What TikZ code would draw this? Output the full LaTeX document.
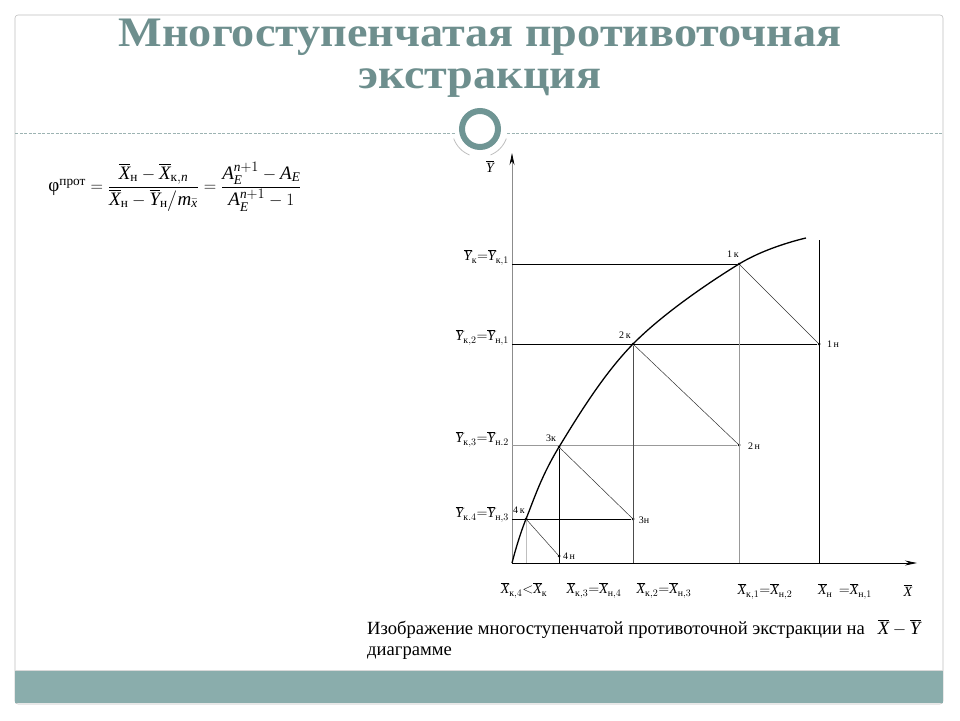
\documentclass[tikz,border=0pt]{standalone}
\usepackage{amsmath}
\usepackage{fontspec}
\setmainfont{Liberation Serif}
\usetikzlibrary{arrows.meta}
\definecolor{tealtitle}{HTML}{6E8F8E}
\definecolor{tealbar}{HTML}{8AADAC}
\definecolor{tealring}{HTML}{6F9594}
\definecolor{dashc}{HTML}{9CB3B2}
\newcommand\vb[1]{\overline{\text{\itshape #1}}}
\newcommand\ti[1]{\text{\itshape #1}}
\newcommand\tx[1]{\text{#1}}
\tikzset{
  pt/.style={circle,fill=black,inner sep=0pt,minimum size=3pt},
  plab/.style={font=\fontsize{10}{12}\selectfont},
  axlab/.style={font=\fontsize{14}{16}\selectfont,inner sep=0pt},
  opline/.style={line width=0.5pt,black!80},
  grid1/.style={line width=0.8pt,black},
  grid2/.style={line width=0.8pt,black!40},
  arr/.style={-{Stealth[length=12pt,width=5pt,color=black]}}
}
\begin{document}
\begin{tikzpicture}[x=1pt,y=-1pt]
\useasboundingbox (0,0) rectangle (960,720);
% slide frame
\draw[black!25,line width=0.6pt,rounded corners=3pt] (15,15) rectangle (943,704);
\fill[tealbar] (15,671) rectangle (943,703);
\draw[black!15,line width=0.6pt] (15,670) -- (943,670);
% title
\node[font=\fontsize{42}{48}\bfseries\selectfont,text=tealtitle,xscale=1.1] (t1) at (480,37) {Многоступенчатая противоточная};
\node[font=\fontsize{42}{48}\bfseries\selectfont,text=tealtitle,xscale=1.1] (t2) at (480,83) {экстракция};
% dashed separator and ornament
\draw[dashc,dash pattern=on 3pt off 1.5pt,line width=0.7pt] (15,133) -- (455,133);
\draw[dashc,dash pattern=on 3pt off 1.5pt,line width=0.7pt] (507,133) -- (943,133);
\draw[black!25,line width=0.8pt] (480,129) ++(160:28) arc[start angle=160,end angle=112,radius=28];
\draw[black!25,line width=0.8pt] (480,129) ++(68:28) arc[start angle=68,end angle=20,radius=28];
\draw[tealring,line width=6pt] (480,129) circle[radius=18];
% formula
\node[font=\fontsize{19}{22}\selectfont,inner sep=0pt] (f) at (175,187)
 {$\tx{φ}^{\tx{прот}} = \dfrac{\vb{X}_{\tx{н}}-\vb{X}_{\tx{к},\ti{n}}}{\vb{X}_{\tx{н}}-\vb{Y}_{\tx{н}}\big/\ti{m}_{\bar{\ti{x}}}} = \dfrac{\ti{A}_{\ti{E}}^{\ti{n}+1}-\ti{A}_{\ti{E}}}{\ti{A}_{\ti{E}}^{\ti{n}+1}-1}$};
% axes
\coordinate (O) at (512,563);
\coordinate (Ytop) at (512,153);
\coordinate (Xend) at (917,563);
\draw[arr,black!45,line width=0.8pt] (O) -- (Ytop);
\draw[arr,black,line width=0.9pt] (O) -- (Xend);
\node[axlab] (ylab) at (490,166) {$\vb{Y}$};
\node[axlab] (xlab) at (908,590) {$\vb{X}$};
% points
\node[pt] (k1) at (739,264) {};
\node[pt] (n1) at (819,344) {};
\node[pt] (k2) at (633,344) {};
\node[pt] (n2) at (739,445) {};
\node[pt] (k3) at (559,447) {};
\node[pt] (n3) at (633,519) {};
\node[pt] (k4) at (526,519) {};
\node[pt] (n4) at (559,556) {};
\node[plab] (lk1) at (733,254) {1\,к};
\node[plab] (ln1) at (833,344) {1\,н};
\node[plab] (lk2) at (625,335) {2\,к};
\node[plab] (ln2) at (754,446) {2\,н};
\node[plab] (lk3) at (551,438) {3к};
\node[plab] (ln3) at (644,520) {3н};
\node[plab] (lk4) at (519,510) {4\,к};
\node[plab] (ln4) at (569,556) {4\,н};
% axis foot coordinates
\coordinate (a1) at (512,264);
\coordinate (a2) at (512,344);
\coordinate (a3) at (512,445);
\coordinate (a4) at (512,519);
\coordinate (b1) at (739,563);
\coordinate (b0) at (819,563);
\coordinate (b0t) at (819,240);
\coordinate (b2) at (633,563);
\coordinate (b3) at (559,563);
\coordinate (b4) at (526,563);
% horizontal lines
\draw[grid1] (a1) -- (k1);
\draw[grid1] (a2) -- (n1);
\draw[grid2] (a3) -- (n2);
\draw[grid1] (a4) -- (n3);
% vertical lines
\draw[grid2] (k1) -- (b1);
\draw[grid1] (b0t) -- (b0);
\draw[line width=0.8pt,black!70] (k2) -- (b2);
\draw[grid1] (k3) -- (b3);
\draw[line width=0.8pt,black!25] (k4) -- (b4);
% operating lines
\draw[opline] (k1) -- (n1);
\draw[opline] (k2) -- (n2);
\draw[opline] (k3) -- (n3);
\draw[opline] (k4) -- (n4);
% equilibrium curve
\draw[line width=1.3pt] plot[smooth,tension=0.6] coordinates {(512,563) (526,519) (559,447) (633,344) (739,264) (806,238)};
% y-axis labels
\node[axlab,anchor=east] (y1) at (509,257) {$\vb{Y}_{\tx{к}}{=}\vb{Y}_{\tx{к},1}$};
\node[axlab,anchor=east] (y2) at (509,337) {$\vb{Y}_{\tx{к},2}{=}\vb{Y}_{\tx{н},1}$};
\node[axlab,anchor=east] (y3) at (509,439) {$\vb{Y}_{\tx{к},3}{=}\vb{Y}_{\tx{н}.2}$};
\node[axlab,anchor=east] (y4) at (509,514) {$\vb{Y}_{\tx{к}.4}{=}\vb{Y}_{\tx{н},3}$};
% x-axis labels
\node[axlab] (x4) at (524,590) {$\vb{X}_{\tx{к},4}{<}\vb{X}_{\tx{к}}$};
\node[axlab] (x3) at (594,590) {$\vb{X}_{\tx{к},3}{=}\vb{X}_{\tx{н},4}$};
\node[axlab] (x2) at (664,590) {$\vb{X}_{\tx{к},2}{=}\vb{X}_{\tx{н},3}$};
\node[axlab] (x1) at (765,591) {$\vb{X}_{\tx{к},1}{=}\vb{X}_{\tx{н},2}$};
\node[axlab] (x0) at (845,591) {$\vb{X}_{\tx{н}}\;\,{=}\vb{X}_{\tx{н},1}$};
% caption
\node[anchor=north west,align=left,inner sep=0pt,font=\fontsize{18.6}{21}\selectfont] (cap) at (367,619)
 {Изображение многоступенчатой противоточной экстракции на\;\, $\vb{X}-\vb{Y}$\\диаграмме};
\end{tikzpicture}
\end{document}
